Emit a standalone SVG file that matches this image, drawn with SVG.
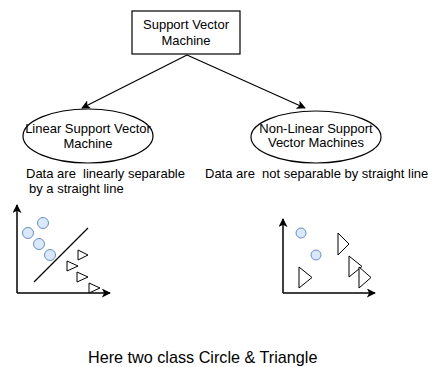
<svg xmlns="http://www.w3.org/2000/svg" width="428" height="367" viewBox="0 0 428 367">
  <style>
    text { font-family: "Liberation Sans", Arial, sans-serif; fill: #000; white-space: pre; }
    .t13 { font-size: 13px; text-anchor: middle; }
    .t12 { font-size: 13px; }
    .t16 { font-size: 16.2px; }
    .shape { fill: #fff; stroke: #000; stroke-width: 1.2; }
    .edge { fill: none; stroke: #000; stroke-width: 1.2; }
    .axis { fill: none; stroke: #000; stroke-width: 1.5; }
    .dot { fill: #dae8fc; stroke: #6c8ebf; stroke-width: 1; }
    .tri { fill: #fff; stroke: #000; stroke-width: 1; }
  </style>
  <defs>
    <marker id="arrow" viewBox="0 0 10 10" refX="9" refY="5" markerWidth="9" markerHeight="9" markerUnits="userSpaceOnUse" orient="auto">
      <path d="M0,0 L10,5 L0,10 L2.5,5 Z" fill="#000"/>
    </marker>
  </defs>

  <rect width="428" height="367" fill="#fff"/>

  <!-- connectors -->
  <g id="connectors">
    <path class="edge" d="M187,55 L82,108" marker-end="url(#arrow)"/>
    <path class="edge" d="M187,55 L305,108" marker-end="url(#arrow)"/>
  </g>

  <g id="svm">
    <rect class="shape" x="132" y="11" width="108" height="43"/>
    <text class="t13" x="186" y="29">Support Vector</text>
    <text class="t13" x="186" y="45">Machine</text>
  </g>

  <g id="linear-svm">
    <ellipse class="shape" cx="88" cy="136" rx="65" ry="27"/>
    <text class="t13" x="88" y="133">Linear Support Vector</text>
    <text class="t13" x="88" y="148">Machine</text>
  </g>

  <g id="nonlinear-svm">
    <ellipse class="shape" cx="316" cy="137" rx="65" ry="26"/>
    <text class="t13" x="316" y="133">Non-Linear Support</text>
    <text class="t13" x="316" y="147">Vector Machines</text>
  </g>

  <g id="linear-note">
    <text class="t12" x="26" y="178">Data are  linearly separable</text>
    <text class="t12" x="29" y="193">by a straight line</text>
  </g>

  <g id="nonlinear-note">
    <text class="t12" x="205" y="178">Data are  not separable by straight line</text>
  </g>

  <!-- linearly separable plot -->
  <g id="linear-plot">
    <path class="axis" d="M17,293 L17,205" marker-end="url(#arrow)"/>
    <path class="axis" d="M17,293 L110,293" marker-end="url(#arrow)"/>
    <circle class="dot" cx="43" cy="223" r="5.5"/>
    <circle class="dot" cx="28" cy="233" r="5.5"/>
    <circle class="dot" cx="39" cy="244" r="5.5"/>
    <circle class="dot" cx="50" cy="255" r="5.5"/>
    <line class="edge" x1="34" y1="282" x2="88" y2="228"/>
    <path class="tri" d="M78,250 L88,255 L78,260 Z"/>
    <path class="tri" d="M67,261 L78,266 L67,271 Z"/>
    <path class="tri" d="M77,272 L88,277 L77,282 Z"/>
    <path class="tri" d="M89,283 L100,288 L89,293 Z"/>
  </g>

  <!-- non-linearly separable plot -->
  <g id="nonlinear-plot">
    <path class="axis" d="M283,293 L283,219" marker-end="url(#arrow)"/>
    <path class="axis" d="M283,293 L375,293" marker-end="url(#arrow)"/>
    <circle class="dot" cx="301" cy="233" r="5"/>
    <circle class="dot" cx="316" cy="255" r="5"/>
    <path class="tri" d="M338,233 L349,244 L338,255 Z"/>
    <path class="tri" d="M349,256 L362,266.5 L349,277 Z"/>
    <path class="tri" d="M359,267 L371,277.5 L359,288 Z"/>
    <path class="tri" d="M299,267 L312,277.5 L299,288 Z"/>
  </g>

  <g id="caption">
    <text class="t16" x="88" y="363">Here two class Circle &amp; Triangle</text>
  </g>
</svg>
